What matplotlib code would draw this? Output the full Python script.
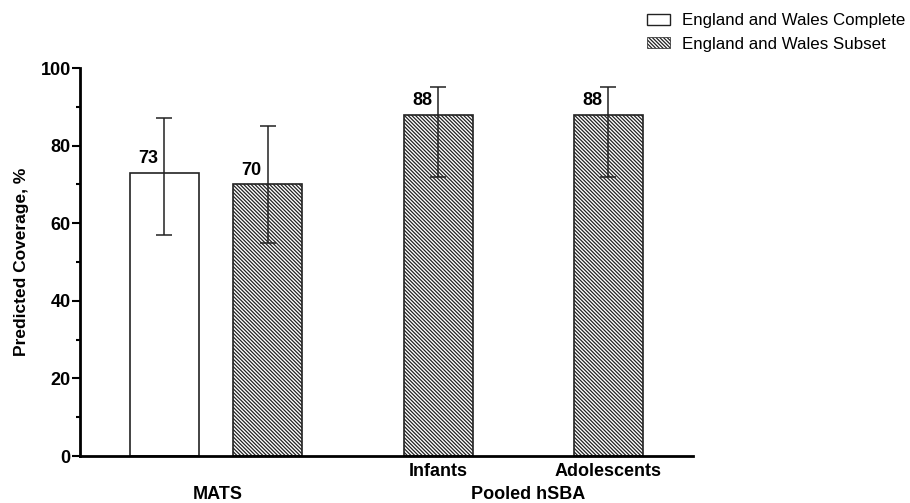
import matplotlib.pyplot as plt
import matplotlib as mpl
import numpy as np

plt.rcParams['font.family'] = ['Liberation Sans', 'DejaVu Sans']
plt.rcParams['hatch.linewidth'] = 0.9
plt.rcParams['hatch.color'] = '#333333'

# data
bar_labels = ['', '', 'Infants', 'Adolescents']
group_labels = ['MATS', 'Pooled hSBA']
values = [73, 70, 88, 88]
err_low = [57, 55, 72, 72]
err_high = [87, 85, 95, 95]
series = ['England and Wales Complete', 'England and Wales Subset', 'England and Wales Subset', 'England and Wales Subset']

# layout
xpos = np.array([0.84, 1.875, 3.58, 5.28])
width = 0.69
HATCH = '\\' * 9

fig = plt.figure(figsize=(9.1, 5.03), dpi=100)
ax = fig.add_axes([0.088, 0.0934, 0.674, 0.7714])

vals = np.array(values)
yerr = np.array([vals - np.array(err_low), np.array(err_high) - vals])
for i in range(len(vals)):
    hatch = None if series[i] == 'England and Wales Complete' else HATCH
    ax.bar(xpos[i], vals[i], width, color='white', edgecolor='#222222',
           linewidth=1.2, hatch=hatch, zorder=2)
ax.errorbar(xpos, vals, yerr=yerr, fmt='none', ecolor='#222222', elinewidth=1.1,
            capsize=6.1, capthick=1.1, zorder=3)

for x, v in zip(xpos, vals):
    ax.text(x - 0.16, v + 3.6, str(v), ha='center', va='center',
            fontsize=13, fontweight='bold')

ax.set_xlim(0, 6.13)
ax.set_ylim(0, 100)
ax.set_yticks(np.arange(0, 101, 20))
ax.set_yticks(np.arange(10, 100, 20), minor=True)
ax.set_xticks(xpos[2:])
ax.set_xticklabels(bar_labels[2:], fontsize=13, fontweight='bold')
ax.tick_params(axis='x', length=0, pad=5)
ax.tick_params(axis='y', which='major', length=5.8, width=1.5, labelsize=13, pad=1)
ax.tick_params(axis='y', which='minor', length=2.8, width=1.5)
for lbl in ax.get_yticklabels():
    lbl.set_fontweight('bold')
ax.spines['top'].set_visible(False)
ax.spines['right'].set_visible(False)
ax.spines['left'].set_linewidth(2.0)
ax.spines['bottom'].set_linewidth(2.0)
ax.set_ylabel('Predicted Coverage, %', fontsize=12.5, fontweight='bold', labelpad=8)

# group labels under the tick labels
centers = [xpos[:2].mean() + 0.02, xpos[2:].mean() + 0.05]
for c, g in zip(centers, group_labels):
    ax.text(c, -0.1, g, transform=ax.get_xaxis_transform(), ha='center',
            va='center', fontsize=13, fontweight='bold')

handles = [mpl.patches.Patch(facecolor='white', edgecolor='#222222', linewidth=1.0),
           mpl.patches.Patch(facecolor='white', edgecolor='#222222', linewidth=0.5,
                             hatch=HATCH)]
fig.legend(handles, ['England and Wales Complete', 'England and Wales Subset'],
           loc='upper left', bbox_to_anchor=(0.694, 1.004), frameon=False,
           fontsize=12.2, handlelength=1.35, handleheight=0.6, labelspacing=0.5,
           handletextpad=0.75)

fig.savefig('out.png', dpi=100)
